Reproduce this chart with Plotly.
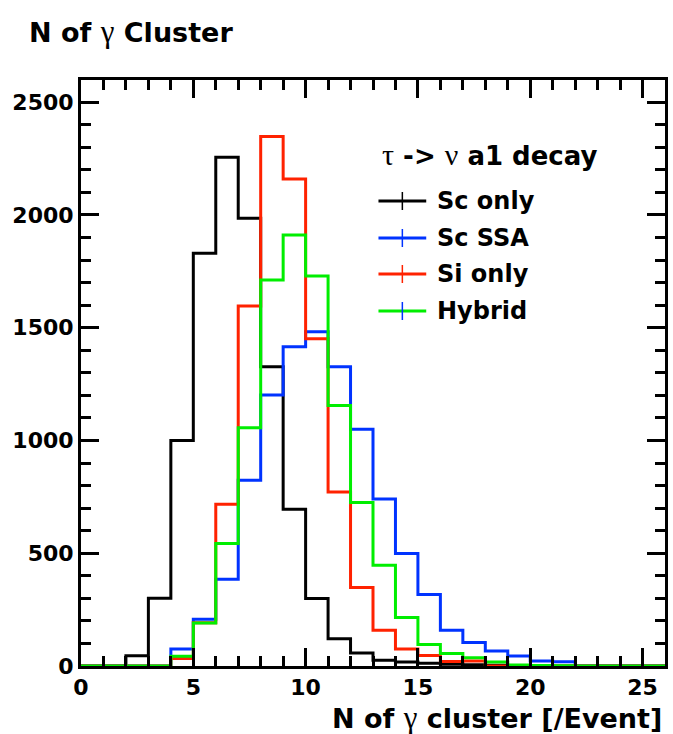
import plotly.graph_objects as go

# Bin edges: one bin per cluster count, 0..26
edges = list(range(0, 27))

# Events per bin for each detector configuration
sc_only = [0, 0, 45, 300, 1000, 1830, 2255, 1985, 1327, 695, 299, 121, 58, 25, 18,
           12, 8, 5, 3, 0, 0, 0, 0, 0, 0, 0]
sc_ssa = [0, 0, 0, 0, 75, 207, 385, 824, 1201, 1415, 1482, 1327, 1050, 740, 499,
          317, 158, 104, 67, 44, 22, 19, 0, 0, 0, 0]
si_only = [0, 0, 0, 0, 33, 192, 717, 1596, 2347, 2159, 1451, 771, 348, 158, 75,
           47, 20, 22, 0, 0, 0, 0, 0, 0, 0, 0]
hybrid = [0, 0, 0, 0, 43, 191, 543, 1056, 1711, 1911, 1729, 1155, 725, 447, 215,
          95, 55, 37, 18, 4, 2, 1, 0, 0, 0, 0]

series = [
    ("Sc only", sc_only, "#000000", "#000000"),
    ("Sc SSA", sc_ssa, "#0033ff", "#0033ff"),
    ("Si only", si_only, "#ff2200", "#ff2200"),
    ("Hybrid", hybrid, "#00ee00", "#0033ff"),
]

W, H = 673, 734
L, R, T, B = 81, 5, 80, 68
PW, PH = W - L - R, H - T - B

FONT = "DejaVu Sans"


def px_x(px):
    return (px - L) / PW


def px_y(py):
    return (H - B - py) / PH


def greek(ch, size):
    return (f"<span style=\"font-family:'Liberation Serif';font-weight:normal;"
            f"font-size:{size}px\">{ch}</span>")


fig = go.Figure()
for name, vals, color, _ in series:
    fig.add_trace(go.Scatter(
        x=edges, y=vals + [vals[-1]],
        mode="lines", line=dict(color=color, width=3, shape="hv"),
        name=name, showlegend=False, hoverinfo="skip",
    ))

# Hand-drawn legend block (line with error-bar cross, label)
shapes = []
annotations = []
rows_y = [201, 238, 274, 311]
for (name, _, color, bar_color), ry in zip(series, rows_y):
    shapes.append(dict(type="line", xref="paper", yref="paper",
                       x0=px_x(380), x1=px_x(428), y0=px_y(ry), y1=px_y(ry),
                       line=dict(color=color, width=3)))
    shapes.append(dict(type="line", xref="paper", yref="paper",
                       x0=px_x(404), x1=px_x(404), y0=px_y(ry - 9), y1=px_y(ry + 9),
                       line=dict(color=bar_color, width=1.5)))
    annotations.append(dict(xref="paper", yref="paper", x=px_x(437), y=px_y(ry),
                            xanchor="left", yanchor="middle", showarrow=False,
                            text=name,
                            font=dict(family=FONT, size=24,
                                      color="black", weight="bold")))

annotations.append(dict(
    xref="paper", yref="paper", x=px_x(382), y=px_y(154),
    xanchor="left", yanchor="middle", showarrow=False,
    text=f"{greek('τ', 30)} -> {greek('ν', 30)} a1 decay",
    font=dict(family=FONT, size=26, color="black", weight="bold")))

# Canvas title
annotations.append(dict(
    xref="paper", yref="paper", x=px_x(27), y=px_y(32),
    xanchor="left", yanchor="middle", showarrow=False,
    text=f"N of {greek('γ', 31)} Cluster",
    font=dict(family=FONT, size=27, color="black", weight="bold")))

# X axis title, right aligned
annotations.append(dict(
    xref="paper", yref="paper", x=px_x(667), y=px_y(717),
    xanchor="right", yanchor="middle", showarrow=False,
    text=f"N of {greek('γ', 31)} cluster [/Event]",
    font=dict(family=FONT, size=27, color="black", weight="bold")))

tickfont = dict(family=FONT, size=22, color="black", weight="bold")

fig.update_layout(
    width=W, height=H,
    margin=dict(l=L, r=R, t=T, b=B),
    paper_bgcolor="white", plot_bgcolor="white",
    shapes=shapes, annotations=annotations,
    xaxis=dict(range=[0, 26], tickmode="array", tickvals=[0, 5, 10, 15, 20, 25],
               ticks="inside", ticklen=18, tickwidth=2.5, tickcolor="black",
               minor=dict(dtick=1, ticks="inside", ticklen=10, tickwidth=2.5,
                          tickcolor="black", showgrid=False),
               showline=True, linewidth=3, linecolor="black", mirror="ticks",
               showgrid=False, zeroline=False, tickfont=tickfont, ticklabelstandoff=0),
    yaxis=dict(range=[0, 2598], tickmode="array", tickvals=[0, 500, 1000, 1500, 2000, 2500],
               ticks="inside", ticklen=18, tickwidth=2.5, tickcolor="black",
               minor=dict(dtick=100, ticks="inside", ticklen=10, tickwidth=2.5,
                          tickcolor="black", showgrid=False),
               showline=True, linewidth=3, linecolor="black", mirror="ticks",
               showgrid=False, zeroline=False, tickfont=tickfont, ticklabelstandoff=0),
)

fig.write_html("out.html")
